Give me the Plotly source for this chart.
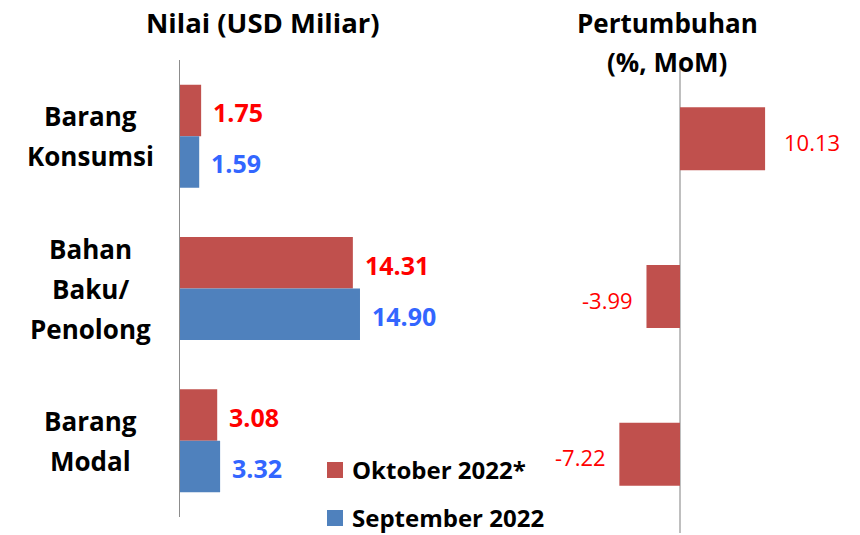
import plotly.graph_objects as go

# ---- data ----
categories = ["Barang<br>Konsumsi", "Bahan<br>Baku/<br>Penolong", "Barang<br>Modal"]
oct_values = [1.75, 14.31, 3.08]
sep_values = [1.59, 14.90, 3.32]
growth_values = [10.13, -3.99, -7.22]
series_names = ["Oktober 2022*", "September 2022"]
left_title = "Nilai (USD Miliar)"
right_title = "Pertumbuhan<br>(%, MoM)"

# ---- style ----
RED = "#C0504D"
BLUE = "#4F81BD"
RED_TXT = "#FF0000"
BLUE_TXT = "#3366FF"
FONT = "Open Sans"
W, H = 860, 535

fig = go.Figure()

fig.add_trace(go.Bar(y=categories, x=oct_values, orientation="h", marker_color=RED,
                     marker_line_width=0, name=series_names[0], showlegend=False,
                     xaxis="x", yaxis="y", hoverinfo="skip"))
fig.add_trace(go.Bar(y=categories, x=sep_values, orientation="h", marker_color=BLUE,
                     marker_line_width=0, name=series_names[1], showlegend=False,
                     xaxis="x", yaxis="y", hoverinfo="skip"))
fig.add_trace(go.Bar(y=categories, x=growth_values, orientation="h", marker_color=RED,
                     marker_line_width=0, width=0.4, showlegend=False,
                     xaxis="x2", yaxis="y2", hoverinfo="skip"))

ann = []
shapes = []
# category labels
for cat in categories:
    lines = cat.split("<br>")
    n = len(lines)
    for j, ln in enumerate(lines):
        ann.append(dict(x=90 / W, xref="paper", y=cat, yref="y", text="<b>%s</b>" % ln,
                        showarrow=False, xanchor="center", yanchor="middle",
                        yshift=((n - 1) / 2 - j) * 40,
                        font=dict(family=FONT, size=26, color="black")))
# value labels, left panel
for cat, v in zip(categories, oct_values):
    ann.append(dict(x=v, xref="x", y=cat, yref="y", text="<b>%.2f</b>" % v, showarrow=False,
                    xanchor="left", yanchor="middle", xshift=10, yshift=24,
                    font=dict(family=FONT, size=25, color=RED_TXT)))
for cat, v in zip(categories, sep_values):
    ann.append(dict(x=v, xref="x", y=cat, yref="y", text="<b>%.2f</b>" % v, showarrow=False,
                    xanchor="left", yanchor="middle", xshift=10, yshift=-27,
                    font=dict(family=FONT, size=25, color=BLUE_TXT)))
# value labels, right panel
for cat, v in zip(categories, growth_values):
    ann.append(dict(x=v, xref="x2", y=cat, yref="y2", text="%.2f" % v, showarrow=False,
                    xanchor="left" if v > 0 else "right", yanchor="middle",
                    xshift=17 if v > 0 else -11, yshift=-3,
                    font=dict(family=FONT, size=22, color=RED_TXT)))
# titles
ann.append(dict(x=263 / W, y=1 - 22 / H, xref="paper", yref="paper", text="<b>%s</b>" % left_title,
                showarrow=False, xanchor="center", yanchor="middle",
                font=dict(family=FONT, size=27.5, color="black")))
rt = right_title.split("<br>")
for j, ln in enumerate(rt):
    ann.append(dict(x=667 / W, y=1 - (23 + 39 * j) / H, xref="paper", yref="paper",
                    text="<b>%s</b>" % ln, showarrow=False, xanchor="center", yanchor="middle",
                    font=dict(family=FONT, size=26, color="black")))

# legend (drawn manually so it can sit close to the bottom edge)
for i, (nm, col) in enumerate(zip(series_names, [RED, BLUE])):
    yc = 470 + 48 * i
    shapes.append(dict(type="rect", xref="paper", yref="paper",
                       x0=327 / W, x1=343 / W, y0=1 - (yc + 8) / H, y1=1 - (yc - 8) / H,
                       fillcolor=col, line=dict(width=0)))
    ann.append(dict(x=350 / W, y=1 - (yc - 1) / H, xref="paper", yref="paper",
                    text="<b>%s</b>" % nm, showarrow=False, xanchor="left", yanchor="middle",
                    font=dict(family=FONT, size=24, color="black")))

fig.update_layout(
    width=W, height=H,
    margin=dict(l=0, r=0, t=0, b=0, autoexpand=False),
    paper_bgcolor="white", plot_bgcolor="rgba(0,0,0,0)",
    barmode="group", bargap=0.324, bargroupgap=0,
    font=dict(family=FONT, color="black"),
    xaxis=dict(domain=[180 / W, 540 / W], range=[0, 360 / 12.08], visible=False, fixedrange=True),
    yaxis=dict(domain=[1 - 517 / H, 1 - 60 / H], range=[2.5, -0.5], showline=True,
               linecolor="#8C8C8C", linewidth=1, showticklabels=False, ticks="",
               showgrid=False, zeroline=False, anchor="x", fixedrange=True),
    xaxis2=dict(domain=[560 / W, 820 / W], range=[-120 / 8.4, 140 / 8.4], showgrid=False,
                zeroline=True, zerolinecolor="#BFBFBF", zerolinewidth=2,
                showticklabels=False, ticks="", showline=False, anchor="y2", fixedrange=True),
    yaxis2=dict(domain=[1 - 533 / H, 1 - 60 / H], range=[2.5, -0.5], visible=False,
                anchor="x2", fixedrange=True),
    annotations=ann,
    shapes=shapes,
    showlegend=False,
)

fig.write_html("out.html", config={"displayModeBar": False},
               post_script="document.body.style.margin='0';document.body.style.overflow='hidden';")
